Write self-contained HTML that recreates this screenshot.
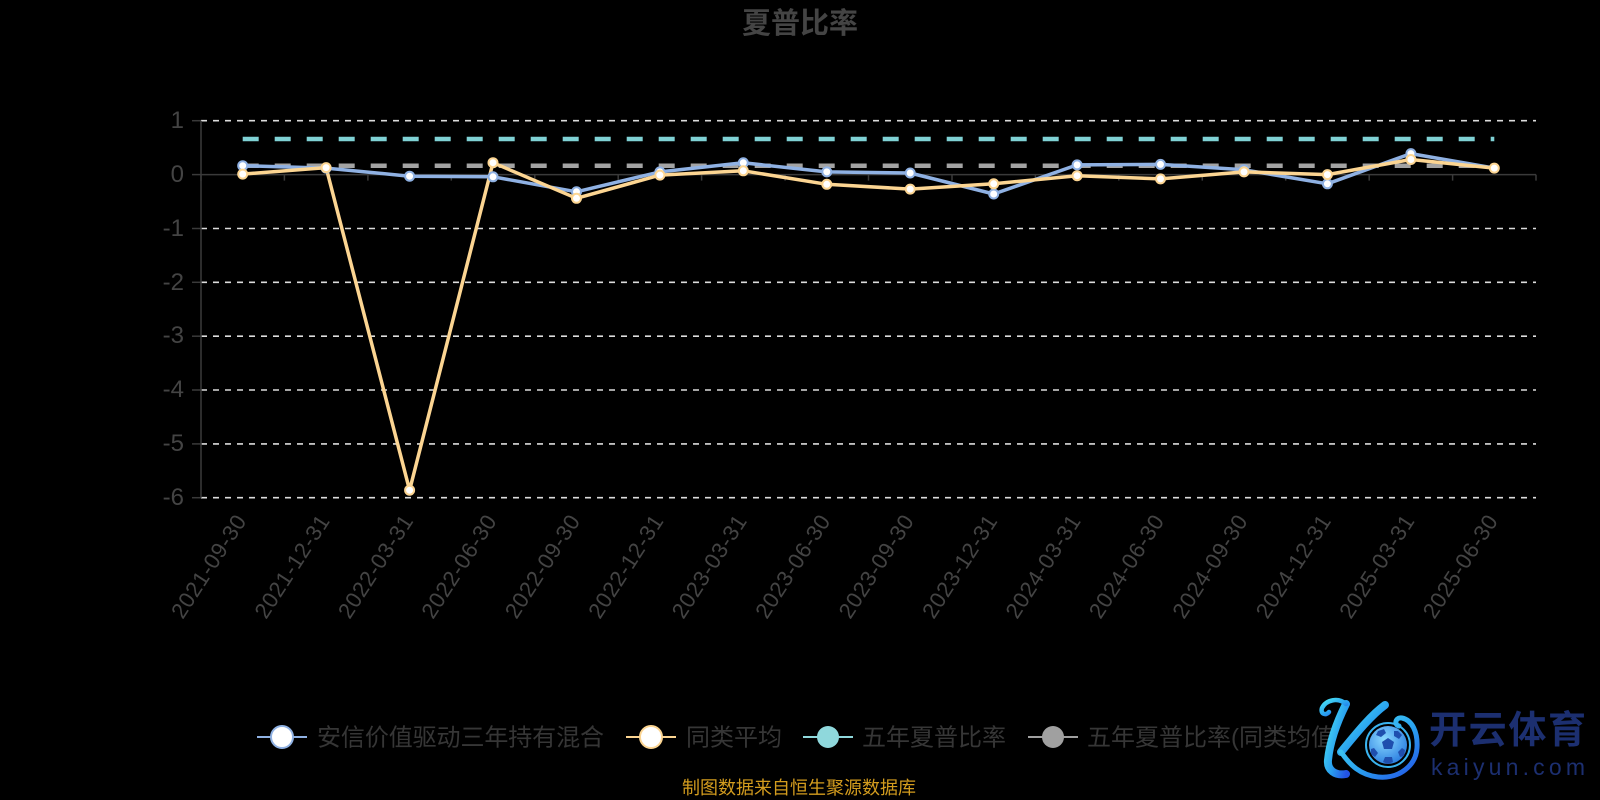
<!DOCTYPE html>
<html><head><meta charset="utf-8"><style>
html,body{margin:0;padding:0;background:#000;}
svg{display:block;}
</style></head><body>
<svg width="1600" height="800" viewBox="0 0 1600 800" xmlns="http://www.w3.org/2000/svg">
<defs>
<linearGradient id="kg" x1="0" y1="0" x2="1" y2="1">
<stop offset="0" stop-color="#4ce6f4"/><stop offset="0.55" stop-color="#2aa2f0"/><stop offset="1" stop-color="#2353e6"/>
</linearGradient>
<radialGradient id="ballg" cx="0.4" cy="0.35" r="0.7">
<stop offset="0" stop-color="#8ad8ff"/><stop offset="1" stop-color="#2a7ee0"/>
</radialGradient>
</defs>
<rect width="1600" height="800" fill="#000"/>

<!-- title -->
<text x="800" y="33" text-anchor="middle" font-family="'Liberation Sans','Noto Sans CJK SC',sans-serif" font-size="29" font-weight="bold" fill="#444">夏普比率</text>

<!-- grid lines -->
<g stroke="#dcdcdc" stroke-width="1.6" stroke-dasharray="6,6">
<line x1="201" y1="120.7" x2="1536" y2="120.7"/>
<line x1="201" y1="228.5" x2="1536" y2="228.5"/>
<line x1="201" y1="282.3" x2="1536" y2="282.3"/>
<line x1="201" y1="336.2" x2="1536" y2="336.2"/>
<line x1="201" y1="390.0" x2="1536" y2="390.0"/>
<line x1="201" y1="443.9" x2="1536" y2="443.9"/>
<line x1="201" y1="497.7" x2="1536" y2="497.7"/>
</g>

<!-- axes -->
<g stroke="#3a3a3a" stroke-width="1.5" fill="none">
<line x1="201" y1="120.7" x2="201" y2="497.7"/>
<line x1="201" y1="174.6" x2="1536" y2="174.6"/>
<line x1="192" y1="120.7" x2="201" y2="120.7"/>
<line x1="192" y1="174.6" x2="201" y2="174.6"/>
<line x1="192" y1="228.5" x2="201" y2="228.5"/>
<line x1="192" y1="282.3" x2="201" y2="282.3"/>
<line x1="192" y1="336.2" x2="201" y2="336.2"/>
<line x1="192" y1="390.0" x2="201" y2="390.0"/>
<line x1="192" y1="443.9" x2="201" y2="443.9"/>
<line x1="192" y1="497.7" x2="201" y2="497.7"/>
<path d="M201 174.6v6 M284.4 174.6v6 M367.9 174.6v6 M451.3 174.6v6 M534.8 174.6v6 M618.2 174.6v6 M701.6 174.6v6 M785.1 174.6v6 M868.5 174.6v6 M952.0 174.6v6 M1035.4 174.6v6 M1118.8 174.6v6 M1202.3 174.6v6 M1285.7 174.6v6 M1369.2 174.6v6 M1452.6 174.6v6 M1536 174.6v6"/>
</g>

<!-- y labels -->
<g font-family="'Liberation Sans',sans-serif" font-size="24" fill="#444" text-anchor="end">
<text x="184" y="128">1</text>
<text x="184" y="182">0</text>
<text x="184" y="236">-1</text>
<text x="184" y="290">-2</text>
<text x="184" y="343">-3</text>
<text x="184" y="397">-4</text>
<text x="184" y="451">-5</text>
<text x="184" y="505">-6</text>
</g>

<!-- x labels -->
<g font-family="'Liberation Sans',sans-serif" font-size="22" fill="#444" text-anchor="end" dominant-baseline="central">
<text transform="translate(240.7,517) rotate(-57)" textLength="118">2021-09-30</text>
<text transform="translate(324.1,517) rotate(-57)" textLength="118">2021-12-31</text>
<text transform="translate(407.6,517) rotate(-57)" textLength="118">2022-03-31</text>
<text transform="translate(491.0,517) rotate(-57)" textLength="118">2022-06-30</text>
<text transform="translate(574.5,517) rotate(-57)" textLength="118">2022-09-30</text>
<text transform="translate(657.9,517) rotate(-57)" textLength="118">2022-12-31</text>
<text transform="translate(741.3,517) rotate(-57)" textLength="118">2023-03-31</text>
<text transform="translate(824.8,517) rotate(-57)" textLength="118">2023-06-30</text>
<text transform="translate(908.2,517) rotate(-57)" textLength="118">2023-09-30</text>
<text transform="translate(991.7,517) rotate(-57)" textLength="118">2023-12-31</text>
<text transform="translate(1075.1,517) rotate(-57)" textLength="118">2024-03-31</text>
<text transform="translate(1158.5,517) rotate(-57)" textLength="118">2024-06-30</text>
<text transform="translate(1242.0,517) rotate(-57)" textLength="118">2024-09-30</text>
<text transform="translate(1325.4,517) rotate(-57)" textLength="118">2024-12-31</text>
<text transform="translate(1408.9,517) rotate(-57)" textLength="118">2025-03-31</text>
<text transform="translate(1492.3,517) rotate(-57)" textLength="118">2025-06-30</text>
</g>

<!-- reference dashed lines -->
<line x1="242.7" y1="139" x2="1494.3" y2="139" stroke="#7fd1d4" stroke-width="4.5" stroke-dasharray="16,16"/>
<line x1="242.7" y1="165.7" x2="1494.3" y2="165.7" stroke="#a3a3a3" stroke-width="4.5" stroke-dasharray="16,16"/>

<!-- blue series -->
<polyline fill="none" stroke="#8fb1e3" stroke-width="3.5" stroke-linejoin="round"
points="242.7,165.7 326.1,168.1 409.6,176.2 493.0,176.8 576.5,191.8 659.9,171.9 743.3,162.8 826.8,171.9 910.2,173.0 993.7,194.0 1077.1,164.9 1160.5,164.4 1244.0,169.8 1327.4,183.8 1410.9,153.6 1494.3,168.1"/>
<!-- yellow series -->
<polyline fill="none" stroke="#fcd592" stroke-width="3.5" stroke-linejoin="round"
points="242.7,174.1 326.1,167.6 409.6,490.2 493.0,162.7 576.5,198.3 659.9,175.1 743.3,170.8 826.8,184.3 910.2,189.1 993.7,183.8 1077.1,175.7 1160.5,178.9 1244.0,171.9 1327.4,174.6 1410.9,159.5 1494.3,168.1"/>

<g fill="#fff" stroke="#8fb1e3" stroke-width="2">
<circle cx="242.7" cy="165.7" r="4.5"/><circle cx="326.1" cy="168.1" r="4.5"/><circle cx="409.6" cy="176.2" r="4.5"/><circle cx="493.0" cy="176.8" r="4.5"/><circle cx="576.5" cy="191.8" r="4.5"/><circle cx="659.9" cy="171.9" r="4.5"/><circle cx="743.3" cy="162.8" r="4.5"/><circle cx="826.8" cy="171.9" r="4.5"/><circle cx="910.2" cy="173.0" r="4.5"/><circle cx="993.7" cy="194.0" r="4.5"/><circle cx="1077.1" cy="164.9" r="4.5"/><circle cx="1160.5" cy="164.4" r="4.5"/><circle cx="1244.0" cy="169.8" r="4.5"/><circle cx="1327.4" cy="183.8" r="4.5"/><circle cx="1410.9" cy="153.6" r="4.5"/>
</g>
<g fill="#fff" stroke="#fcd592" stroke-width="2">
<circle cx="242.7" cy="174.1" r="4.5"/><circle cx="326.1" cy="167.6" r="4.5"/><circle cx="409.6" cy="490.2" r="4.5"/><circle cx="493.0" cy="162.7" r="4.5"/><circle cx="576.5" cy="198.3" r="4.5"/><circle cx="659.9" cy="175.1" r="4.5"/><circle cx="743.3" cy="170.8" r="4.5"/><circle cx="826.8" cy="184.3" r="4.5"/><circle cx="910.2" cy="189.1" r="4.5"/><circle cx="993.7" cy="183.8" r="4.5"/><circle cx="1077.1" cy="175.7" r="4.5"/><circle cx="1160.5" cy="178.9" r="4.5"/><circle cx="1244.0" cy="171.9" r="4.5"/><circle cx="1327.4" cy="174.6" r="4.5"/><circle cx="1410.9" cy="159.5" r="4.5"/><circle cx="1494.3" cy="168.1" r="4.5"/>
</g>

<!-- legend -->
<g font-family="'Liberation Sans','Noto Sans CJK SC',sans-serif" font-size="24" fill="#363636">
<line x1="257" y1="737" x2="307" y2="737" stroke="#8fb1e3" stroke-width="2"/>
<circle cx="282" cy="737" r="11" fill="#fff" stroke="#8fb1e3" stroke-width="2"/>
<text x="317" y="745.5" textLength="287">安信价值驱动三年持有混合</text>
<line x1="626" y1="737" x2="676" y2="737" stroke="#fcd592" stroke-width="2"/>
<circle cx="651" cy="737" r="11" fill="#fff" stroke="#fcd592" stroke-width="2"/>
<text x="686" y="745.5">同类平均</text>
<line x1="803" y1="737" x2="853" y2="737" stroke="#8fd8dc" stroke-width="2"/>
<circle cx="828" cy="737" r="11" fill="#8fd8dc"/>
<text x="862" y="745.5">五年夏普比率</text>
<line x1="1028" y1="737" x2="1078" y2="737" stroke="#a0a0a0" stroke-width="2"/>
<circle cx="1053" cy="737" r="11" fill="#a0a0a0"/>
<text x="1087" y="745.5">五年夏普比率(同类均值)</text>
</g>

<!-- footer -->
<text x="682" y="794" font-family="'Liberation Sans','Noto Sans CJK SC',sans-serif" font-size="18" fill="#d39c1e">制图数据来自恒生聚源数据库</text>

<!-- watermark logo -->
<rect x="1336" y="690" width="264" height="105" fill="#000"/>
<g fill="none" stroke="url(#kg)" stroke-linecap="round">
<path d="M1346,704 C1338,720 1330,740 1328,760 C1327,770 1335,776 1346,774" stroke-width="8"/>
<path d="M1346,704 C1338,697 1326,700 1322,708 C1320,714 1326,716 1329,712" stroke-width="4.5"/>
<path d="M1341,752 C1355,735 1370,716 1385,705" stroke-width="8"/>
<path d="M1341,752 C1350,765 1360,775 1378,777 C1400,779 1416,765 1417,748 C1418,732 1412,720 1402,718 C1395,717 1394,725 1399,726" stroke-width="5"/>
</g>
<circle cx="1388" cy="745" r="22" fill="none" stroke="#3ab4f0" stroke-width="2"/>
<circle cx="1388" cy="745" r="19" fill="url(#ballg)"/>
<g fill="#1f4fae">
<polygon points="1388,738 1394,742 1392,749 1384,749 1382,742"/>
<polygon points="1378,731 1384,729 1386,733 1381,737 1376,735"/>
<polygon points="1398,731 1402,735 1399,739 1394,736 1394,731"/>
<polygon points="1374,748 1378,753 1375,757 1371,754 1371,749"/>
<polygon points="1402,748 1405,750 1404,756 1400,757 1398,752"/>
<polygon points="1385,757 1392,757 1393,762 1388,764 1383,762"/>
</g>
<text x="1429" y="743" font-family="'Noto Sans CJK SC',sans-serif" font-size="38" font-weight="bold" fill="#1c2f70" textLength="157">开云体育</text>
<text x="1431" y="775" font-family="'Liberation Sans',sans-serif" font-size="23" fill="#1c2f70" textLength="154">kaiyun.com</text>
</svg>
</body></html>
